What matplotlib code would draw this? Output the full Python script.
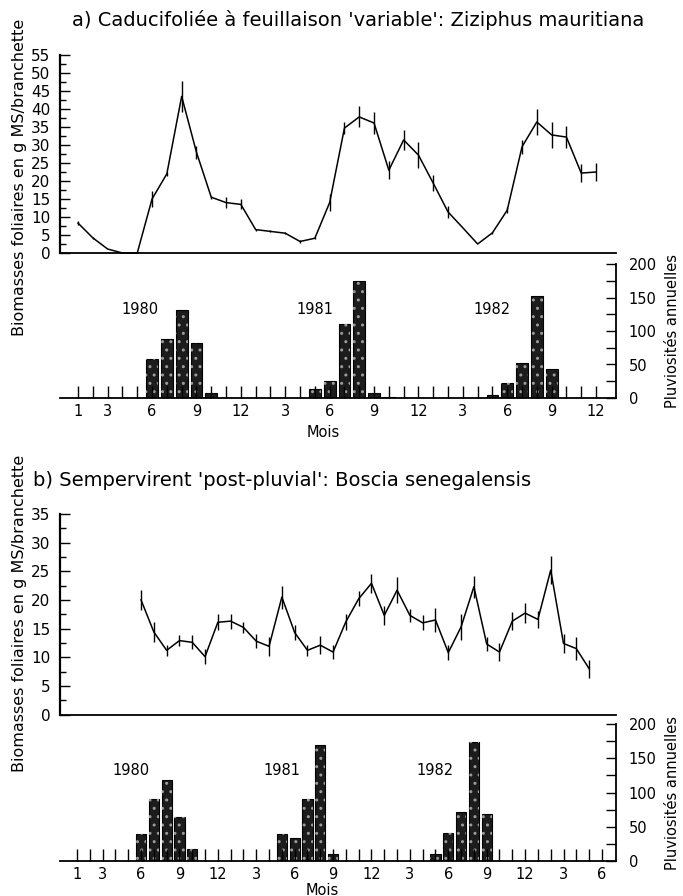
import matplotlib
matplotlib.use('Agg')
import matplotlib.pyplot as plt
from matplotlib.ticker import MultipleLocator

# month index 0 = janvier 1980
# a) Ziziphus mauritiana: biomasse foliaire (g MS/branchette) et erreur
a_months = list(range(0, 36))
a_bio = [8.3, 4.2, 1.1, 0, 0, 15, 22, 43.5, 28, 15.5, 14, 13.5,
         6.5, 6, 5.5, 3.2, 4.1, 14, 34.7, 37.8, 36.1, 23, 31.4, 27.2,
         19.4, 11.4, 7, 2.5, 5.6, 11.9, 29.5, 36.4, 32.8, 32.2, 22.2, 22.5]
a_err = [0.5, 0.3, 0, 0, 0, 2.3, 0.6, 4.4, 1.8, 0.4, 1.6, 1.4,
         0.3, 0.3, 0.3, 0.3, 0.3, 2.3, 1.6, 2.9, 3.1, 2.5, 2.8, 3.5,
         2.3, 1.6, 0, 0, 0.3, 0.8, 1.9, 3.6, 3.5, 3.1, 2.5, 2.5]
# pluviosite mensuelle (mm)
a_rain = [0, 0, 0, 0, 0, 58, 88, 132, 82, 7, 0, 0,
          0, 0, 0, 0, 13, 25, 110, 174, 7, 1, 0, 0,
          0, 0, 0, 0, 4, 22, 52, 152, 44, 0, 0, 0]

# b) Boscia senegalensis
b_months = list(range(5, 41))
b_bio = [20.0, 14.4, 11.2, 12.9, 12.6, 10.1, 16.1, 16.3, 15.2, 12.8, 11.9, 20.5,
         14.3, 11.2, 12.1, 10.9, 16.2, 20.2, 22.9, 17.3, 21.7, 17.3, 16.0, 16.5,
         10.8, 15.3, 22.3, 12.3, 10.9, 16.3, 17.7, 16.6, 25.2, 12.4, 11.5, 8.0]
b_err = [1.7, 1.7, 1.0, 1.0, 1.2, 1.3, 1.4, 1.3, 1.0, 1.2, 1.7, 2.0,
         1.3, 1.0, 1.6, 1.2, 1.4, 1.3, 1.7, 1.7, 2.3, 1.1, 1.3, 2.1,
         1.3, 2.3, 1.9, 1.3, 1.5, 1.6, 1.7, 1.5, 2.4, 1.6, 2.0, 1.6]
b_rain_months = list(range(0, 42))
b_rain = [0, 0, 0, 0, 0, 40, 91, 118, 64, 18, 0, 0,
          0, 0, 0, 0, 39, 33, 91, 170, 10, 0, 0, 0,
          0, 0, 0, 0, 10, 41, 72, 174, 68, 0, 0, 0,
          0, 0, 0, 0, 0, 0]

years = ['1980', '1981', '1982']
year_pos = [4.2, 16, 28]
shown = (3, 6, 9, 12)

W, H = 683, 896
fig = plt.figure(figsize=(W / 100, H / 100), dpi=100)


def box(x0, y0, x1, y1):
    return [x0 / W, 1 - y1 / H, (x1 - x0) / W, (y1 - y0) / H]


def month_label(m):
    mo = m % 12 + 1
    if m == 0 or mo in shown:
        return str(mo)
    return ''


def line_panel(rect, months, bio, err, ymax, xlim):
    ax = fig.add_axes(box(*rect))
    ax.errorbar(months, bio, yerr=err, color='k', lw=1.1, elinewidth=1.0,
                capsize=0, clip_on=False)
    ax.set_xlim(xlim)
    ax.set_ylim(0, ymax)
    for s in ['top', 'right']:
        ax.spines[s].set_visible(False)
    ax.spines['left'].set_linewidth(1.6)
    ax.spines['bottom'].set_linewidth(1.3)
    ax.set_xticks([])
    ax.yaxis.set_major_locator(MultipleLocator(5))
    ax.yaxis.set_minor_locator(MultipleLocator(2.5))
    ax.tick_params(axis='y', direction='in', length=7, width=1, labelsize=11, pad=7)
    ax.tick_params(axis='y', which='minor', direction='in', length=4, width=1)
    ax.patch.set_alpha(0)
    return ax


def bar_panel(rect, months, rain, xlim):
    ax = fig.add_axes(box(*rect))
    ax.bar(months, rain, width=0.8, color='#1c1c1c', edgecolor='k', lw=0.8)
    ax.bar(months, rain, width=0.8, fill=False, hatch='..', edgecolor='#9a9a9a', lw=0)
    ax.set_xlim(xlim)
    ax.set_ylim(0, 200)
    ax.spines['top'].set_visible(False)
    ax.spines['left'].set_visible(False)
    ax.spines['right'].set_linewidth(1.3)
    ax.spines['bottom'].set_linewidth(1.3)
    ax.yaxis.tick_right()
    ax.yaxis.set_label_position('right')
    ax.set_yticks([0, 50, 100, 150, 200])
    ax.yaxis.set_minor_locator(MultipleLocator(25))
    ax.tick_params(axis='y', direction='in', length=7, width=1, labelsize=10.5, pad=9)
    ax.tick_params(axis='y', which='minor', direction='in', length=7, width=1)
    ax.set_xticks(months)
    ax.set_xticklabels([month_label(m) for m in months])
    ax.tick_params(axis='x', direction='in', length=9, width=1, labelsize=10.5, pad=4)
    ax.set_ylabel('Pluviosités annuelles', fontsize=10.5, labelpad=6)
    for yr, xp in zip(years, year_pos):
        ax.text(xp, 132, yr, ha='center', va='center', fontsize=10.5)
    ax.patch.set_alpha(0)
    return ax


xa = (-1.22, 36.35)
xb = (-1.33, 42.1)

line_panel((60, 55, 616, 253), a_months, a_bio, a_err, 55, xa)
bar_panel((60, 264, 616, 398), a_months, a_rain, xa)
line_panel((60, 514, 616, 714.5), b_months, b_bio, b_err, 35, xb)
bar_panel((60, 724, 616, 861), b_rain_months, b_rain, xb)

fig.text(72 / W, 1 - 20 / H,
         "a) Caducifoliée à feuillaison 'variable': Ziziphus mauritiana",
         ha='left', va='center', fontsize=14)
fig.text(33 / W, 1 - 480 / H,
         "b) Sempervirent 'post-pluvial': Boscia senegalensis",
         ha='left', va='center', fontsize=14)

ylab = 'Biomasses foliaires en g MS/branchette'
fig.text(20 / W, 1 - 177 / H, ylab, rotation=90, ha='center', va='center', fontsize=11.5)
fig.text(20 / W, 1 - 613 / H, ylab, rotation=90, ha='center', va='center', fontsize=11.5)

fig.text(323 / W, 1 - 432 / H, 'Mois', ha='center', va='center', fontsize=10.5)
fig.text(322 / W, 1 - 890 / H, 'Mois', ha='center', va='center', fontsize=10.5)

plt.savefig('out.png', dpi=100)
plt.close()
